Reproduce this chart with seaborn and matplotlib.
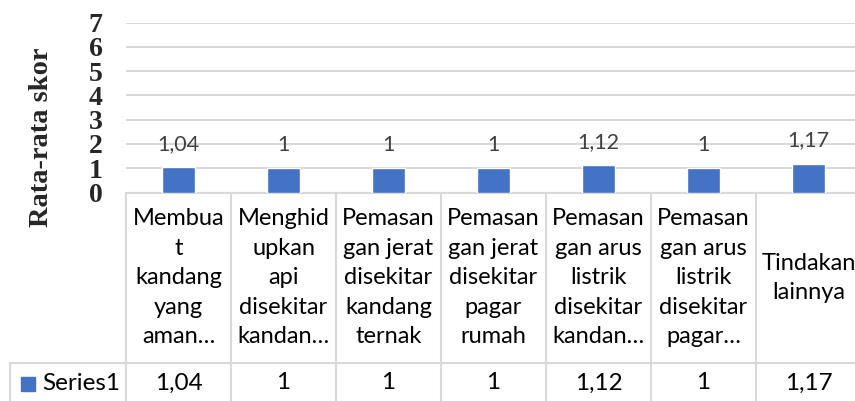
import pandas as pd
import seaborn as sns
import matplotlib.pyplot as plt
from matplotlib.lines import Line2D

categories = ["Membua\nt\nkandang\nyang\naman…",
              "Menghid\nupkan\napi\ndisekitar\nkandan…",
              "Pemasan\ngan jerat\ndisekitar\nkandang\nternak",
              "Pemasan\ngan jerat\ndisekitar\npagar\nrumah",
              "Pemasan\ngan arus\nlistrik\ndisekitar\nkandan…",
              "Pemasan\ngan arus\nlistrik\ndisekitar\npagar…",
              "Tindakan\nlainnya"]
values = [1.04, 1, 1, 1, 1.12, 1, 1.17]
value_labels = ["1,04", "1", "1", "1", "1,12", "1", "1,17"]
series_name = "Series1"
yticks = [0, 1, 2, 3, 4, 5, 6, 7]

BLUE = "#4472C4"
GRID = "#D9D9D9"

sns.set_theme(style="white")
plt.rcParams['font.family'] = ['Lato', 'DejaVu Sans']

df = pd.DataFrame({"cat": range(len(values)), "val": values})

fig = plt.figure(figsize=(8.55, 4.01), dpi=100)
W, H = 855, 401
ax = fig.add_axes([126 / W, (H - 192.5) / H, 735 / W, 169.8 / H])

sns.barplot(data=df, x="cat", y="val", color=BLUE, width=0.31, ax=ax,
            saturation=1, zorder=3)
ax.set_xlim(-0.5, 6.5)
ax.set_ylim(0, 7)
ax.set_yticks(yticks)
ax.set_yticklabels([str(t) for t in yticks], family="Liberation Serif",
                   fontweight="bold", fontsize=20)
ax.tick_params(axis="y", length=0, pad=17)
ax.set_xticks([])
ax.set_xlabel("")
ax.set_ylabel("")
ax.yaxis.grid(True, color=GRID, linewidth=1.5, zorder=0)
for s in ax.spines.values():
    s.set_visible(False)

fig.text(41 / W, (H - 137) / H, "Rata-rata skor", rotation=90,
         family="Liberation Serif", fontweight="bold", fontsize=20.5,
         ha="center", va="center")

for i, (v, lab) in enumerate(zip(values, value_labels)):
    ax.annotate(lab, (i, v), xytext=(0, 17), textcoords="offset points",
                ha="center", va="center", fontsize=15.5, color="#404040")

# data table
tr = ax.get_xaxis_transform()
hdr_bot = (192.5 - 363) / 169.8
tbl_bot = (192.5 - 402) / 169.8
val_y = (192.5 - 383) / 169.8
lkw = dict(color=GRID, linewidth=1.5, clip_on=False, transform=tr)
ax.plot([-0.5, 6.6], [0, 0], **lkw)
for k in range(len(values) + 1):
    ax.plot([k - 0.5, k - 0.5], [0, tbl_bot], **lkw)
for i, c in enumerate(categories):
    ax.text(i, hdr_bot / 2, c, transform=tr, ha="center", va="center",
            fontsize=17, linespacing=1.5, color="black")
    ax.text(i, val_y, value_labels[i], transform=tr, ha="center",
            va="center", fontsize=17.5, color="black")

fig.add_artist(Line2D([10 / W, 1], [(H - 363) / H] * 2, color=GRID, linewidth=1.5))
fig.add_artist(Line2D([10 / W] * 2, [(H - 363) / H, 0], color=GRID, linewidth=1.5))
fig.add_artist(plt.Rectangle((21 / W, (H - 391) / H), 14 / W, 14 / H,
                             color=BLUE, transform=fig.transFigure))
fig.text(42 / W, (H - 383) / H, series_name, ha="left", va="center",
         fontsize=17.5, color="black")

fig.savefig("out.png", dpi=100)
